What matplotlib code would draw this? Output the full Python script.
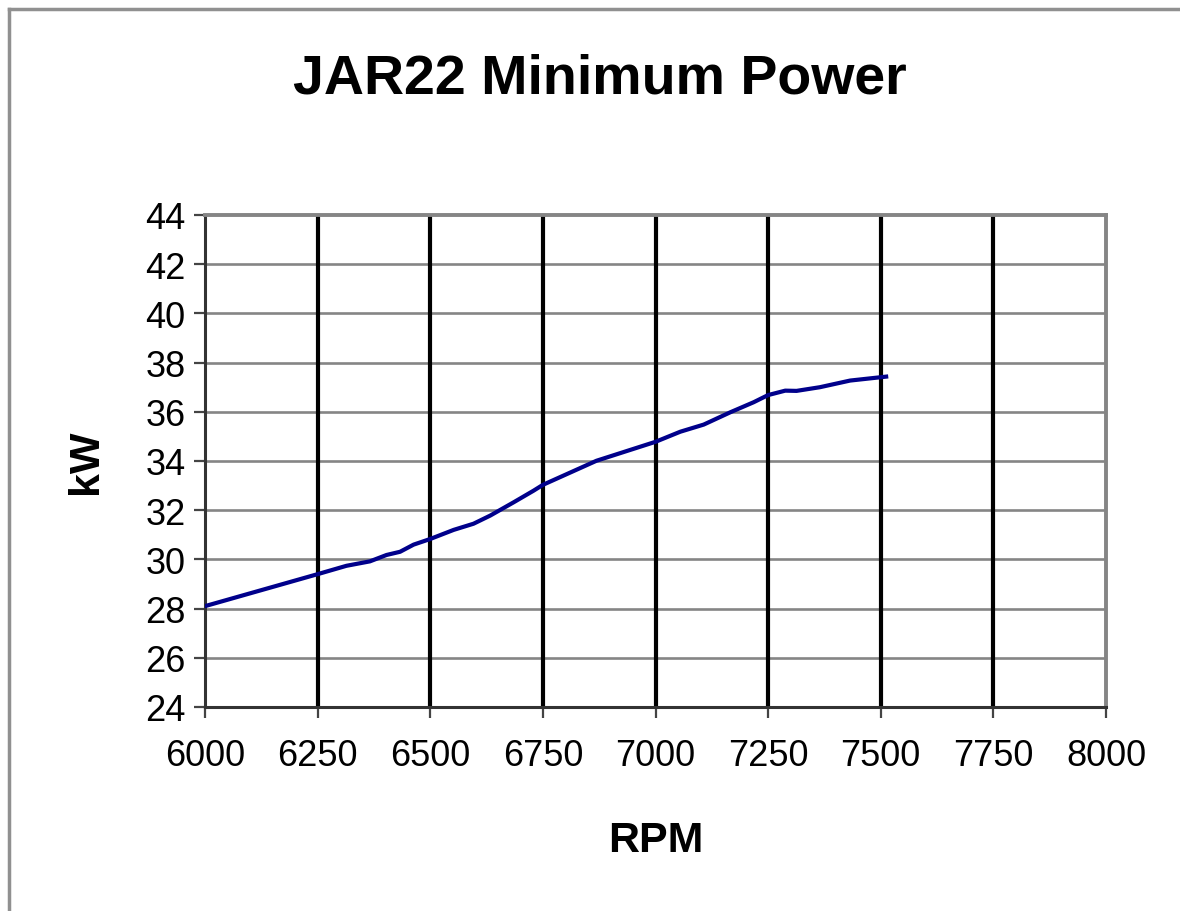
import matplotlib.pyplot as plt
from matplotlib.lines import Line2D

# --- DATOS ---
rpm = [6000, 6100, 6200, 6250, 6314, 6366, 6403, 6433, 6463, 6500,
       6552, 6596, 6633, 6685, 6729, 6750, 6869, 7000, 7055, 7107,
       7166, 7218, 7240, 7250, 7288, 7313, 7365, 7432, 7462, 7512]
kw = [28.10, 28.62, 29.14, 29.40, 29.74, 29.92, 30.18, 30.31, 30.60, 30.83,
      31.20, 31.45, 31.78, 32.32, 32.79, 33.03, 34.01, 34.78, 35.19, 35.48,
      35.98, 36.39, 36.59, 36.68, 36.86, 36.85, 37.00, 37.27, 37.33, 37.43]

x_ticks = [6000, 6250, 6500, 6750, 7000, 7250, 7500, 7750, 8000]
y_ticks = [24, 26, 28, 30, 32, 34, 36, 38, 40, 42, 44]

plt.rcParams['font.family'] = ['Liberation Sans', 'DejaVu Sans']

fig = plt.figure(figsize=(11.8, 9.12), dpi=100)
ax = fig.add_axes([205 / 1180, 1 - 708 / 912, 901 / 1180, 492 / 912])

# rejilla: horizontales grises, verticales negras gruesas
for y in y_ticks[1:-1]:
    ax.axhline(y, color='#858585', lw=1.9, zorder=1)
for x in x_ticks[1:-1]:
    ax.axvline(x, color='black', lw=3.0, zorder=1)

ax.plot(rpm, kw, color='#00008b', lw=3.0, zorder=3)

ax.set_xlim(6000, 8000)
ax.set_ylim(24, 44)
ax.set_xticks(x_ticks)
ax.set_yticks(y_ticks)
ax.tick_params(axis='both', labelsize=26, direction='out', length=8,
               width=1.6, color='#444444')
ax.tick_params(axis='x', pad=14)
ax.tick_params(axis='y', pad=6)

for s in ['top', 'right']:
    ax.spines[s].set_color('#858585')
    ax.spines[s].set_linewidth(2.8)
for s in ['left', 'bottom']:
    ax.spines[s].set_color('#333333')
    ax.spines[s].set_linewidth(2.2)

ax.set_xlabel('RPM', fontsize=31, fontweight='bold', labelpad=34)
ax.set_ylabel('kW', fontsize=31, fontweight='bold', labelpad=28)
fig.text(600 / 1180, 1 - 79 / 912, 'JAR22 Minimum Power', fontsize=40,
         fontweight='bold', ha='center', va='center')

# borde exterior (solo izquierda y arriba visibles)
fig.add_artist(Line2D([9 / 1180, 9 / 1180], [0, 1 - 10 / 912],
                      transform=fig.transFigure, color='#909090', lw=2.5))
fig.add_artist(Line2D([9 / 1180, 1], [1 - 10 / 912, 1 - 10 / 912],
                      transform=fig.transFigure, color='#909090', lw=2.5))

fig.savefig('out.png', dpi=100)
